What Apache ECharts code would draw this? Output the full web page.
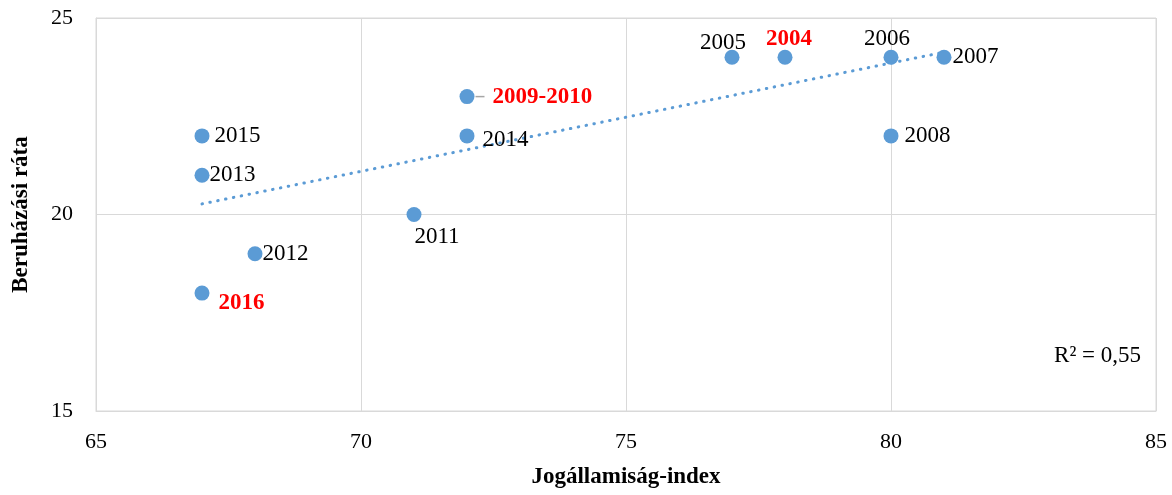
<!DOCTYPE html>
<html>
<head>
<meta charset="utf-8">
<script src="https://cdn.jsdelivr.net/npm/echarts@6/dist/echarts.min.js"></script>
<style>html,body{margin:0;padding:0;background:#fff}#c{width:1172px;height:495px}</style>
</head>
<body>
<div id="c"></div>
<script>
// Data
const years = ['2015','2013','2016','2012','2011','2014','2009-2010','2005','2004','2006','2007','2008'];
const ruleOfLaw = [67, 67, 67, 68, 71, 72, 72, 77, 78, 80, 81, 80];
const investmentRate = [22, 21, 18, 19, 20, 22, 23, 24, 24, 24, 24, 22];
const highlighted = ['2016', '2009-2010', '2004'];
const trendX = [67, 81];
const trendY = [20.27, 24.13];
const xTicks = [65, 70, 75, 80, 85];
const yTicks = [15, 20, 25];
const r2Text = 'R² = 0,55';

const serif = '"Liberation Serif","DejaVu Serif",serif';
const blue = '#5b9bd5';
const gridGray = '#d9d9d9';
const LBL = 23;

// label placement (style only)
const labelStyle = {
  '2015': {position: 'right', distance: 5},
  '2013': {position: 'right', distance: 0},
  '2016': {position: 'right', distance: 9, offset: [0, 10]},
  '2012': {position: 'right', distance: 0},
  '2011': {position: 'bottom', distance: 3, offset: [23, 0]},
  '2014': {position: 'right', distance: 8, offset: [0, 4]},
  '2009-2010': {position: 'right', distance: 1},
  '2005': {position: 'top', distance: -5, offset: [-9, 0]},
  '2004': {position: 'top', distance: -1, offset: [4, 0]},
  '2006': {position: 'top', distance: -1, offset: [-4, 0]},
  '2007': {position: 'right', distance: 1},
  '2008': {position: 'right', distance: 6}
};

const scatterData = years.map((yr, i) => {
  const hl = highlighted.includes(yr);
  const ls = labelStyle[yr] || {position: 'right'};
  const label = Object.assign({
    show: true,
    formatter: yr,
    color: hl ? '#ff0000' : '#000',
    fontWeight: hl ? 'bold' : 'normal',
    fontFamily: serif,
    fontSize: LBL
  }, ls);
  if (yr === '2009-2010') {
    label.formatter = '{l|}{t|' + yr + '}';
    label.rich = {
      l: {width: 9, height: 1.5, backgroundColor: '#a6a6a6'},
      t: {padding: [0, 0, 0, 8], color: '#ff0000', fontWeight: 'bold', fontFamily: serif, fontSize: LBL}
    };
  }
  return {value: [ruleOfLaw[i], investmentRate[i]], label};
});

const chart = echarts.init(document.getElementById('c'), null, {renderer: 'canvas'});
chart.setOption({
  animation: false,
  backgroundColor: '#fff',
  grid: {left: 96, right: 16, top: 18, bottom: 84, show: true, borderColor: gridGray, borderWidth: 1,
    containLabel: false, outerBoundsMode: 'none'},
  xAxis: {
    type: 'value', min: xTicks[0], max: xTicks[xTicks.length - 1], interval: 5,
    name: 'Jogállamiság-index', nameLocation: 'middle', nameGap: 55,
    nameTextStyle: {fontFamily: serif, fontWeight: 'bold', fontSize: 23, color: '#000'},
    axisLine: {lineStyle: {color: gridGray}}, axisTick: {show: false},
    axisLabel: {fontFamily: serif, fontSize: 22, color: '#000', margin: 20,
      formatter: v => xTicks.includes(v) ? String(v) : ''},
    splitLine: {lineStyle: {color: gridGray, width: 1}}
  },
  yAxis: {
    type: 'value', min: yTicks[0], max: yTicks[yTicks.length - 1], interval: 5,
    name: 'Beruházási ráta', nameLocation: 'middle', nameGap: 63,
    nameTextStyle: {fontFamily: serif, fontWeight: 'bold', fontSize: 23, color: '#000'},
    axisLine: {show: true, lineStyle: {color: gridGray}}, axisTick: {show: false},
    axisLabel: {fontFamily: serif, fontSize: 22, color: '#000', margin: 23,
      formatter: v => yTicks.includes(v) ? String(v) : ''},
    splitLine: {lineStyle: {color: gridGray, width: 1}}
  },
  graphic: [{
    type: 'text', right: 31, top: 344,
    style: {text: r2Text, font: '23px ' + serif, fill: '#000'}
  }],
  series: [
    {
      type: 'line', data: trendX.map((x, i) => [x, trendY[i]]),
      showSymbol: false, symbol: 'none', silent: true, z: 1,
      lineStyle: {color: blue, width: 3, type: [0.5, 7.5], cap: 'round'}
    },
    {
      type: 'scatter', data: scatterData, symbolSize: 15, z: 3,
      itemStyle: {color: blue, opacity: 1}
    }
  ]
});
</script>
</body>
</html>
